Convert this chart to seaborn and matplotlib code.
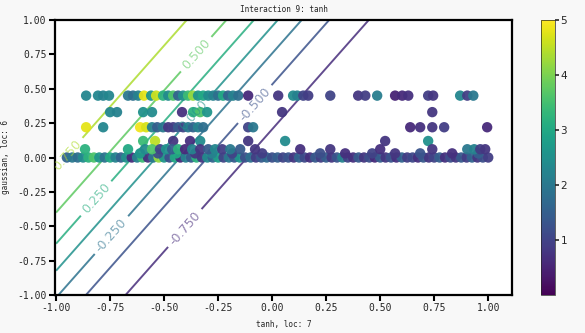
import numpy as np
import pandas as pd
import matplotlib
matplotlib.use("Agg")
import matplotlib.pyplot as plt
import seaborn as sns

# ---------------- data ----------------
row045_y = 0.45
row045_x = [-0.861, -0.806, -0.782, -0.755, -0.667, -0.644, -0.620, -0.593, -0.560, -0.537,
            -0.505, -0.481, -0.458, -0.435, -0.412, -0.389, -0.366, -0.343, -0.319, -0.296,
            -0.273, -0.250, -0.227, -0.204, -0.181, -0.157, -0.111, 0.028, 0.097, 0.116,
            0.144, 0.167, 0.269, 0.398, 0.431, 0.486, 0.569, 0.602, 0.630, 0.722,
            0.745, 0.870, 0.903, 0.931]
row045_v = [2.3, 2.3, 2.2, 2.3, 2.0, 1.8, 2.2, 4.8, 2.6, 4.6,
            3.2, 2.4, 3.6, 1.6, 2.5, 3.4, 4.2, 2.6, 3.0, 2.4,
            2.2, 1.8, 3.0, 1.6, 2.2, 1.8, 0.6, 0.8, 2.4, 2.2,
            1.0, 0.9, 1.0, 0.8, 0.9, 2.1, 0.5, 0.6, 0.7, 0.9,
            0.8, 2.3, 0.9, 2.0]

row033_y = 0.33
row033_x = [-0.750, -0.718, -0.597, -0.556, -0.417, -0.366, -0.333, -0.301, 0.046, 0.741]
row033_v = [2.3, 2.2, 2.5, 2.4, 0.7, 3.2, 3.6, 2.6, 0.8, 0.8]

row022_y = 0.22
row022_x = [-0.861, -0.782, -0.611, -0.583, -0.556, -0.532, -0.505, -0.481, -0.458, -0.435,
            -0.412, -0.389, -0.366, -0.343, -0.319, -0.111, -0.088, 0.639, 0.685, 0.741,
            0.796, 0.995]
row022_v = [4.8, 2.3, 4.9, 4.7, 2.2, 1.5, 2.0, 0.8, 0.9, 1.4,
            1.0, 2.0, 1.6, 2.2, 1.8, 1.0, 2.0, 0.6, 0.7, 0.8,
            0.9, 0.6]

row012_y = 0.12
row012_x = [-0.597, -0.542, -0.458, -0.380, -0.333, -0.111, 0.060, 0.523, 0.722]
row012_v = [3.4, 4.5, 0.8, 0.7, 2.4, 0.8, 2.4, 0.8, 2.5]

row006_y = 0.06
row006_x = [-0.866, -0.667, -0.588, -0.556, -0.519, -0.491, -0.463, -0.435, -0.403, -0.370,
            -0.333, -0.296, -0.264, -0.231, -0.194, -0.148, -0.079, 0.130, 0.269, 0.500,
            0.741, 0.903, 0.935, 0.963, 0.986]
row006_v = [3.2, 3.0, 2.4, 3.6, 1.0, 2.5, 1.5, 3.2, 0.6, 2.2,
            0.8, 1.4, 2.3, 0.9, 2.0, 1.4, 0.8, 0.7, 0.8, 0.7,
            0.8, 2.0, 2.2, 0.9, 0.8]

row003_y = 0.03
row003_x = [-0.611, -0.528, -0.444, -0.356, -0.278, -0.185, -0.046, 0.222, 0.338, 0.463,
            0.569, 0.685, 0.833, 0.954]
row003_v = [2.6, 1.2, 3.0, 0.8, 2.2, 1.0, 0.9, 1.2, 0.7, 1.0,
            0.8, 1.3, 0.7, 1.5]

row000_y = 0.0
row000_x = [-0.95, -0.925, -0.90, -0.875, -0.85, -0.825, -0.80, -0.775, -0.75, -0.725,
            -0.70, -0.675, -0.65, -0.625, -0.60, -0.575, -0.55, -0.525, -0.50, -0.475,
            -0.45, -0.425, -0.40, -0.375, -0.35, -0.325, -0.30, -0.275, -0.25, -0.225,
            -0.20, -0.175, -0.15, -0.125, -0.10, -0.075, -0.05, -0.025, 0.0, 0.025,
            0.05, 0.075, 0.10, 0.125, 0.15, 0.175, 0.20, 0.225, 0.25, 0.275,
            0.30, 0.325, 0.35, 0.375, 0.40, 0.425, 0.45, 0.475, 0.50, 0.525,
            0.55, 0.575, 0.60, 0.625, 0.65, 0.675, 0.70, 0.725, 0.75, 0.775,
            0.80, 0.825, 0.85, 0.875, 0.90, 0.925, 0.95, 0.975, 1.0]
row000_v = [1.6, 2.0, 1.8, 2.4, 3.2, 3.6, 2.6, 1.9, 3.0, 2.2,
            1.6, 2.5, 0.6, 2.2, 3.4, 0.7, 2.0, 4.2, 2.6, 1.2,
            3.0, 0.6, 2.2, 1.4, 3.2, 0.8, 2.4, 1.6, 2.8, 1.0,
            2.0, 1.4, 2.6, 1.2, 1.8, 0.9, 1.4, 1.7, 1.2, 1.5,
            1.0, 1.3, 0.8, 1.6, 1.1, 0.7, 1.4, 0.9, 1.5, 0.8,
            1.3, 2.2, 1.0, 0.7, 1.4, 0.8, 1.2, 0.6, 1.5, 0.8,
            1.3, 0.7, 1.6, 0.9, 1.1, 0.7, 1.4, 0.8, 1.0, 1.5,
            0.7, 1.2, 0.8, 1.4, 0.9, 1.6, 0.8, 1.2, 0.9]

# fitted interaction surface: tanh(a*x + b*y + c)
coef_x = -2.31
coef_y = 1.30
intercept = -1.24
contour_levels = [-0.75, -0.5, -0.25, 0.0, 0.25, 0.5, 0.75]

x_ticks = [-1.00, -0.75, -0.50, -0.25, 0.00, 0.25, 0.50, 0.75, 1.00]
y_ticks = [-1.00, -0.75, -0.50, -0.25, 0.00, 0.25, 0.50, 0.75, 1.00]
cbar_ticks = [1, 2, 3, 4, 5]

# ---------------- build table ----------------
rows = [(row045_y, row045_x, row045_v), (row033_y, row033_x, row033_v),
        (row022_y, row022_x, row022_v), (row012_y, row012_x, row012_v),
        (row000_y, row000_x, row000_v), (row003_y, row003_x, row003_v),
        (row006_y, row006_x, row006_v)]
frames = [pd.DataFrame({"x": xs, "y": [yv] * len(xs), "v": vs}) for yv, xs, vs in rows]
df = pd.concat(frames, ignore_index=True)

# ---------------- figure ----------------
sns.set_style("ticks")
plt.rcParams["font.family"] = ["DejaVu Sans"]

W, H = 585, 333
fig = plt.figure(figsize=(W / 100, H / 100), dpi=100, facecolor="#f8f8f8")
ax = fig.add_axes([55 / W, (H - 295) / H, (512 - 55) / W, 275 / H])
ax.set_facecolor("white")

gx = np.linspace(-1.0, 1.12, 300)
gy = np.linspace(-1.0, 1.0, 300)
GX, GY = np.meshgrid(gx, gy)
GZ = np.tanh(coef_x * GX + coef_y * GY + intercept)

cs = ax.contour(GX, GY, GZ, levels=contour_levels, cmap="viridis", linewidths=1.4,
                alpha=0.85, vmin=-1.0, vmax=1.0)
label_pos = [(-0.394, -0.527), (-0.065, 0.367), (-0.718, -0.60), (-0.347, 0.287),
             (-0.796, -0.324), (-0.347, 0.745), (-0.95, 0.02)]
labels = ax.clabel(cs, fmt="%.3f", fontsize=9, inline=True, manual=label_pos)
for t in labels:
    t.set_alpha(0.6)

norm = plt.Normalize(0, 5)
sns.scatterplot(data=df, x="x", y="y", hue="v", palette="viridis", hue_norm=norm,
                s=56, linewidth=0, alpha=0.95, legend=False, ax=ax, zorder=3)

ax.set_xlim(-1.005, 1.11)
ax.set_ylim(-1.0, 1.0)
ax.set_xticks(x_ticks)
ax.set_yticks(y_ticks)
ax.set_xticklabels([f"{t:.2f}" for t in x_ticks], family="DejaVu Sans Mono", fontsize=7)
ax.set_yticklabels([f"{t:.2f}" for t in y_ticks], family="DejaVu Sans Mono", fontsize=7)
ax.tick_params(length=4, width=1.5, color="black", pad=2)
for sp in ax.spines.values():
    sp.set_visible(True)
    sp.set_linewidth(1.6)
    sp.set_color("black")

ax.set_xlabel("tanh, loc: 7", family="DejaVu Sans Mono", fontsize=5.6, labelpad=5)
ax.set_ylabel("gaussian, loc: 6", family="DejaVu Sans Mono", fontsize=5.6, labelpad=5)
ax.set_title("Interaction 9: tanh", family="DejaVu Sans Mono", fontsize=5.6, pad=6)

cax = fig.add_axes([541 / W, (H - 295) / H, 14 / W, 275 / H])
sm = plt.cm.ScalarMappable(norm=norm, cmap="viridis")
cb = fig.colorbar(sm, cax=cax)
cb.set_ticks(cbar_ticks)
cb.ax.tick_params(labelsize=7.5, length=3, width=1.2, pad=1)
cb.outline.set_linewidth(0.5)

fig.savefig("out.png", dpi=100, facecolor=fig.get_facecolor())
